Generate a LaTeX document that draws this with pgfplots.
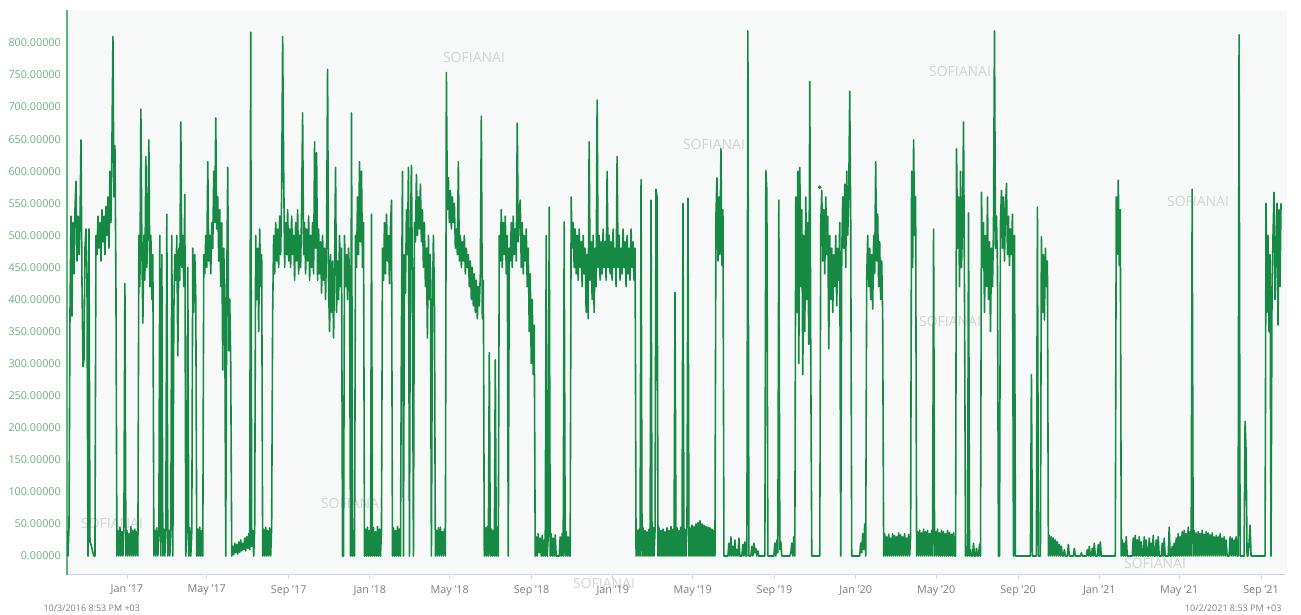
\documentclass[border=0pt]{standalone}
\usepackage{fontspec}
\setmainfont{Open Sans}
\usepackage{pgfplots}
\usepackage{pgfplotstable}
\pgfplotsset{compat=1.18}

\definecolor{linegreen}{RGB}{22,138,69}
\definecolor{ylab}{RGB}{105,178,122}
\definecolor{yaxis}{RGB}{95,180,125}
\definecolor{xaxis}{RGB}{204,214,235}
\definecolor{xlab}{RGB}{125,125,125}
\definecolor{panel}{RGB}{247,249,248}
\definecolor{wmark}{RGB}{212,212,212}

% one sample every 1.5 days from 10/3/2016
\pgfplotstableread{
v
40
0
45
380
530
374
520
440
540
584
460
530
470
520
649
430
295
306
480
510
440
0
510
22
18
12
5
0
0
500
470
530
480
520
460
540
490
530
470
545
500
560
480
600
520
640
810
560
640
430
0
40
0
45
0
38
0
44
425
0
40
0
35
0
46
0
40
0
42
0
38
0
500
420
697
480
363
500
430
623
450
520
649
420
500
400
470
0
40
0
44
0
36
500
0
470
0
42
0
45
533
0
40
0
46
500
0
380
470
430
500
312
480
430
677
450
500
420
564
0
40
450
0
44
0
38
480
380
470
400
0
42
0
45
0
40
0
470
440
500
450
615
460
500
440
520
480
600
520
683
510
560
460
540
420
520
290
480
400
0
420
606
320
400
300
0
15
2
20
5
18
3
22
6
25
8
20
10
28
8
30
12
35
10
817
15
40
0
45
500
400
480
350
510
420
470
0
42
0
45
0
40
0
44
0
46
380
500
440
520
460
510
450
530
470
560
810
606
450
520
470
540
460
510
450
530
470
500
430
520
460
540
440
500
450
540
691
470
520
440
510
460
530
430
500
450
520
440
646
480
629
430
510
440
490
410
500
430
480
400
490
759
420
350
470
380
460
340
450
606
380
460
400
500
420
480
0
0
500
420
470
400
480
440
0
691
0
40
0
500
450
560
470
615
490
600
450
520
0
42
0
45
0
40
0
533
0
44
0
38
0
46
0
42
0
40
480
430
520
440
533
460
500
425
510
555
0
44
0
40
0
46
0
42
0
350
600
0
470
410
540
470
606
0
500
609
420
0
520
490
595
500
560
510
580
490
540
450
520
420
480
340
500
400
470
0
385
500
410
0
40
0
44
0
45
0
38
0
42
0
754
540
590
520
570
510
560
520
550
480
510
470
615
460
500
450
490
460
500
440
480
450
470
420
460
400
450
390
440
380
430
370
420
390
440
686
370
430
0
44
0
46
0
317
0
42
0
40
0
306
0
45
0
500
460
540
450
520
470
530
440
500
0
480
460
520
450
530
470
510
460
675
490
538
555
450
520
440
500
460
510
420
480
350
440
300
400
283
360
0
30
0
35
5
28
0
32
0
25
0
500
0
30
544
0
35
0
28
0
33
0
0
0
0
30
0
35
0
521
0
38
0
30
0
0
560
480
520
450
510
440
500
430
510
450
490
420
500
440
480
380
470
370
646
430
490
400
500
380
480
420
711
450
500
430
490
440
510
450
490
430
600
450
500
440
490
430
510
450
480
420
623
450
500
430
480
440
510
450
490
420
500
440
480
430
510
450
490
430
480
0
40
0
42
0
587
0
44
0
40
0
38
0
42
0
555
0
45
0
40
572
560
0
44
0
40
0
42
0
38
0
44
0
40
0
46
0
42
0
411
0
44
0
40
0
45
0
550
0
42
0
46
558
0
44
0
48
0
46
0
50
0
52
0
55
0
50
0
48
0
46
0
45
0
44
0
42
0
40
0
530
590
460
560
470
635
453
540
0
0
0
0
0
20
0
30
0
15
0
25
0
10
0
28
0
0
0
18
0
22
0
0
819
0
0
0
15
0
20
5
12
0
8
0
0
0
0
0
0
0
601
570
0
0
0
0
0
0
0
20
0
25
5
555
10
22
0
0
0
0
0
0
0
0
0
5
20
0
30
0
560
380
600
300
606
420
540
283
500
350
560
400
520
330
740
300
0
0
0
0
0
0
0
0
0
520
570
460
540
440
560
470
530
323
500
400
480
380
470
420
500
390
480
430
520
0
470
560
480
580
450
600
500
560
725
520
0
0
0
0
0
0
0
0
0
20
5
35
10
50
0
430
500
420
480
400
470
385
500
440
615
460
533
420
490
400
460
380
0
35
0
30
0
34
0
28
0
35
0
32
0
30
0
36
0
33
0
30
0
35
0
28
0
34
0
30
600
450
649
500
560
0
38
0
40
0
36
0
42
0
38
0
40
0
35
0
40
0
510
0
38
0
42
0
36
0
40
0
38
0
35
0
40
0
37
0
34
0
36
0
0
635
480
560
420
600
450
520
677
400
0
15
0
535
0
10
0
0
20
0
0
12
0
0
18
0
567
450
520
380
500
420
560
400
490
350
480
420
510
819
480
530
450
0
0
520
570
480
560
460
540
581
470
530
453
510
470
533
0
500
0
0
0
0
0
0
0
0
0
0
0
0
0
0
0
0
283
0
0
0
0
0
544
0
0
0
498
380
470
368
480
420
460
0
32
0
30
0
28
0
25
0
22
0
18
0
15
0
0
10
0
0
0
18
0
0
0
0
0
12
0
0
0
0
0
0
5
0
0
0
0
0
10
0
15
0
0
12
0
20
0
0
0
18
0
22
0
0
0
0
0
0
0
0
0
0
0
0
0
0
0
560
470
586
453
540
0
25
0
20
0
30
0
0
0
0
0
0
28
0
32
0
25
0
30
0
22
0
0
30
0
25
0
0
28
0
20
0
32
0
0
25
0
30
0
0
0
20
0
28
0
0
0
0
45
0
0
15
0
20
0
28
0
35
0
30
0
38
0
40
0
35
0
45
0
38
0
572
0
40
0
36
0
38
0
35
0
40
0
34
0
38
0
36
0
33
0
36
0
30
0
32
0
30
0
35
0
28
0
30
0
25
0
0
0
30
0
28
0
25
0
30
0
0
813
0
0
0
0
0
210
164
0
0
20
48
0
0
0
0
0
0
0
0
0
0
0
0
0
0
0
550
380
500
350
470
0
420
500
567
400
480
550
360
540
420
550
}\series

\begin{document}
\begin{tikzpicture}
\useasboundingbox (0pt,0pt) rectangle (1301pt,615pt);
\fill[panel] (67pt,40pt) rectangle (1287pt,605pt);
\foreach \wx/\wy in {474/557, 714/470, 960/543, 1198/413, 950/294, 352/112, 112/92, 604/32, 1155/52}
  \node[font=\fontsize{14}{16}\selectfont, text=wmark] at (\wx pt,\wy pt) {SOFIANAI};
\node[anchor=west, font=\fontsize{9}{10}\selectfont, text=xlab] at (40pt,7pt) {10/3/2016 8:53 PM +03};
\node[anchor=east, font=\fontsize{9}{10}\selectfont, text=xlab] at (1285pt,7pt) {10/2/2021 8:53 PM +03};
\begin{axis}[
    at={(67pt,40pt)}, anchor=south west,
    scale only axis, width=1218pt, height=565pt,
    xmin=0, xmax=1830, ymin=-29.6, ymax=851.5,
    axis x line*=bottom, axis y line*=left,
    x axis line style={draw=xaxis, line width=1pt, -},
    y axis line style={draw=yaxis, line width=1.2pt, -},
    xtick={90,210,333,455,575,698,820,940,1063,1185,1306,1429,1551,1671,1794},
    xticklabels={Jan '17,May '17,Sep '17,Jan '18,May '18,Sep '18,Jan '19,May '19,Sep '19,Jan '20,May '20,Sep '20,Jan '21,May '21,Sep '21},
    ytick={0,50,...,800},
    yticklabels={0.00000,50.00000,100.00000,150.00000,200.00000,250.00000,300.00000,350.00000,400.00000,450.00000,500.00000,550.00000,600.00000,650.00000,700.00000,750.00000,800.00000},
    tick align=outside, major tick length=4pt,
    xtick style={draw=xaxis, line width=0.8pt},
    ytick style={draw=none},
    xticklabel style={font=\fontsize{10.8}{12}\selectfont, text=xlab, inner sep=0pt, anchor=north, yshift=-6pt},
    yticklabel style={font=\fontsize{10.8}{12}\selectfont, text=ylab, inner sep=0pt, anchor=east, xshift=-2pt},
  ]
\addplot[linegreen, line width=1.6pt, line join=round] table[x expr=\coordindex*1.5, y=v] {\series};
\addplot[only marks, mark=*, mark size=1.6pt, linegreen] coordinates {(1131,575)};
\end{axis}
\end{tikzpicture}
\end{document}
